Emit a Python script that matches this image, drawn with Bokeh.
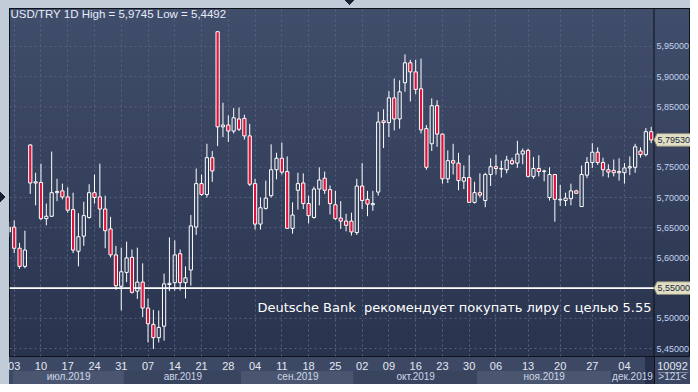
from bokeh.plotting import figure
from bokeh.models import (FixedTicker, LinearAxis, Label, Range1d, ColumnDataSource)
from bokeh.core.properties import value
from bokeh.embed import file_html
from bokeh.resources import INLINE

# ---------------- data ----------------
opens = [5.643, 5.651, 5.616, 5.586, 5.787, 5.724, 5.725, 5.665, 5.669, 5.708,
         5.711, 5.701, 5.680, 5.611, 5.636, 5.667, 5.708, 5.701, 5.681, 5.648,
         5.605, 5.553, 5.576, 5.601, 5.545, 5.560, 5.517, 5.490, 5.468, 5.487,
         5.556, 5.559, 5.607, 5.559, 5.580, 5.651, 5.723, 5.705, 5.766, 5.9745,
         5.817, 5.820, 5.810, 5.830, 5.831, 5.802, 5.723, 5.656, 5.682, 5.703,
         5.746, 5.765, 5.743, 5.649, 5.712, 5.724, 5.690, 5.667, 5.714, 5.732,
         5.713, 5.688, 5.666, 5.661, 5.661, 5.642, 5.719, 5.697, 5.688, 5.709,
         5.827, 5.824, 5.865, 5.830, 5.890, 5.923, 5.908, 5.880, 5.814, 5.789,
         5.852, 5.805, 5.731, 5.761, 5.757, 5.727, 5.733, 5.692, 5.708, 5.695,
         5.738, 5.751, 5.747, 5.746, 5.761, 5.757, 5.772, 5.778, 5.735, 5.748,
         5.743, 5.700, 5.738, 5.696, 5.695, 5.698, 5.711, 5.685, 5.737, 5.758,
         5.775, 5.758, 5.746, 5.745, 5.741, 5.741, 5.749, 5.750, 5.777, 5.771,
         5.809]
highs = [5.660, 5.662, 5.625, 5.645, 5.788, 5.741, 5.756, 5.690, 5.776, 5.731,
         5.723, 5.717, 5.708, 5.674, 5.693, 5.722, 5.738, 5.756, 5.703, 5.668,
         5.620, 5.617, 5.627, 5.614, 5.617, 5.591, 5.533, 5.514, 5.513, 5.574,
         5.634, 5.629, 5.614, 5.586, 5.671, 5.748, 5.738, 5.789, 5.777, 5.9745,
         5.857, 5.836, 5.848, 5.849, 5.837, 5.822, 5.731, 5.700, 5.728, 5.788,
         5.774, 5.791, 5.768, 5.692, 5.741, 5.740, 5.703, 5.718, 5.750, 5.743,
         5.720, 5.711, 5.694, 5.673, 5.675, 5.731, 5.757, 5.711, 5.711, 5.842,
         5.846, 5.876, 5.897, 5.894, 5.937, 5.928, 5.928, 5.930, 5.820, 5.864,
         5.861, 5.806, 5.778, 5.789, 5.774, 5.753, 5.770, 5.726, 5.740, 5.741,
         5.765, 5.771, 5.761, 5.769, 5.766, 5.794, 5.781, 5.781, 5.767, 5.770,
         5.746, 5.750, 5.739, 5.721, 5.708, 5.723, 5.713, 5.753, 5.767, 5.790,
         5.783, 5.766, 5.755, 5.763, 5.765, 5.757, 5.768, 5.789, 5.783, 5.815,
         5.817]
lows = [5.635, 5.608, 5.582, 5.583, 5.706, 5.687, 5.663, 5.654, 5.668, 5.694,
        5.697, 5.675, 5.608, 5.586, 5.620, 5.665, 5.690, 5.650, 5.616, 5.601,
        5.547, 5.513, 5.560, 5.541, 5.532, 5.502, 5.460, 5.4492, 5.460, 5.463,
        5.545, 5.546, 5.546, 5.533, 5.554, 5.638, 5.703, 5.700, 5.726, 5.785,
        5.800, 5.792, 5.806, 5.810, 5.796, 5.719, 5.647, 5.647, 5.680, 5.700,
        5.730, 5.738, 5.649, 5.640, 5.680, 5.681, 5.657, 5.665, 5.687, 5.706,
        5.672, 5.663, 5.648, 5.644, 5.637, 5.638, 5.681, 5.669, 5.678, 5.703,
        5.782, 5.800, 5.811, 5.814, 5.875, 5.859, 5.871, 5.806, 5.746, 5.777,
        5.784, 5.723, 5.724, 5.738, 5.712, 5.714, 5.691, 5.690, 5.700, 5.684,
        5.719, 5.738, 5.733, 5.740, 5.754, 5.749, 5.755, 5.733, 5.731, 5.735,
        5.727, 5.695, 5.660, 5.686, 5.686, 5.687, 5.706, 5.685, 5.732, 5.749,
        5.754, 5.735, 5.733, 5.735, 5.728, 5.723, 5.737, 5.741, 5.766, 5.768,
        5.790]
closes = [5.651, 5.616, 5.586, 5.613, 5.724, 5.726, 5.665, 5.669, 5.708, 5.710,
          5.701, 5.679, 5.613, 5.635, 5.670, 5.708, 5.700, 5.681, 5.645, 5.605,
          5.554, 5.577, 5.600, 5.543, 5.560, 5.517, 5.491, 5.468, 5.485, 5.557,
          5.558, 5.605, 5.559, 5.567, 5.653, 5.723, 5.705, 5.766, 5.744, 5.817,
          5.820, 5.810, 5.832, 5.813, 5.802, 5.722, 5.656, 5.683, 5.699, 5.746,
          5.765, 5.742, 5.649, 5.671, 5.723, 5.690, 5.670, 5.714, 5.729, 5.712,
          5.690, 5.665, 5.661, 5.654, 5.643, 5.719, 5.695, 5.689, 5.690, 5.825,
          5.824, 5.865, 5.830, 5.875, 5.923, 5.908, 5.879, 5.812, 5.750, 5.852,
          5.805, 5.731, 5.761, 5.757, 5.728, 5.733, 5.692, 5.708, 5.704, 5.738,
          5.751, 5.748, 5.748, 5.762, 5.756, 5.772, 5.777, 5.735, 5.748, 5.743,
          5.744, 5.738, 5.697, 5.697, 5.699, 5.711, 5.707, 5.738, 5.758, 5.775,
          5.758, 5.746, 5.742, 5.741, 5.743, 5.749, 5.751, 5.784, 5.771, 5.809,
          5.7953]
bar_no = list(range(1, len(opens) + 1))

day_tick_bars = [2, 7, 12, 17, 22, 27, 32, 37, 42, 47, 52, 57, 62, 67, 72, 77,
                 82, 87, 92, 98, 104, 110, 116]
day_tick_labels = ["03", "10", "17", "24", "31", "07", "14", "21", "28", "04",
                   "11", "18", "25", "02", "09", "16", "23", "30", "06", "13",
                   "20", "27", "04"]
month_names = ["июл.2019", "авг.2019", "сен.2019", "окт.2019", "ноя.2019", "дек.2019"]
month_first_bar = [1, 23, 45, 66, 89, 114]
month_last_bar = [22, 44, 65, 88, 113, 121]
price_ticks = [5.45, 5.50, 5.55, 5.60, 5.65, 5.70, 5.75, 5.80, 5.85, 5.90, 5.95]
last_price = 5.7953
target_level = 5.55
period_high = 5.9745
period_low = 5.4492
bars_shown = 121
counter_value = "10092"
note_text = "Deutsche Bank \u00a0рекомендует покупать лиру с целью 5.55"

# ---------------- geometry of the canvas ----------------
W, H = 690, 384
FL, FT, FB = 9, 8, 356          # frame left / top / bottom (px)
FR = W                          # frame extends under the price scale
X0, X1 = 1.122, 128.34          # bar-number range across the frame
Y0, Y1 = 5.4368, 6.0129
PLOT_END = 121.52               # bar-number where the price scale panel starts
SCALE_LABEL_X = 121.99
TAG_TIP, TAG_BASE, TAG_TEXT_X = 121.52, 122.08, 122.17
CORNER_X = 124.98


def px_x(n):
    return FL + (n - X0) / (X1 - X0) * (FR - FL)


# ---------------- derived ----------------
body_top = [max(o, c) for o, c in zip(opens, closes)]
body_bot = [min(o, c) for o, c in zip(opens, closes)]
up = [c >= o for o, c in zip(opens, closes)]


def pick(seq, flag):
    return [s for s, u in zip(seq, up) if u == flag]


src_up = ColumnDataSource(dict(x=pick(bar_no, True), top=pick(body_top, True),
                               bot=pick(body_bot, True)))
src_dn = ColumnDataSource(dict(x=pick(bar_no, False), top=pick(body_top, False),
                               bot=pick(body_bot, False)))
src_wick = ColumnDataSource(dict(x=bar_no, h=highs, l=lows, bt=body_top, bb=body_bot))

month_left = [max(f - 0.5, X0 + 0.7) for f in month_first_bar]
month_right = [l + 0.5 for l in month_last_bar]
month_center = [round((a + b) / 2, 2) for a, b in zip(month_left, month_right)]

# ---------------- CSS backdrop (panels, month bands, scroll markers) ----------------
layers = []
MARK = "#1b2130"


def rect(x0, y0, x1, y1, color):
    layers.append(f"linear-gradient({color}, {color}) {x0:.1f}px {y0:.1f}px / "
                  f"{x1 - x0:.1f}px {y1 - y0:.1f}px no-repeat")


def tri(x0, y0, w, h, direction, first_colored):
    a, b = (MARK, "transparent") if first_colored else ("transparent", MARK)
    layers.append(f"linear-gradient(to {direction}, {a} 50%, {b} 50%) "
                  f"{x0}px {y0}px / {w}px {h}px no-repeat")


# small window markers (left arrow, top arrow)
tri(0, 191, 6, 6, "top right", True)
tri(0, 197, 6, 6, "bottom right", True)
tri(345, 0, 5, 5, "top right", False)
tri(350, 0, 5, 5, "bottom right", True)

sep = px_x(PLOT_END)
rect(sep, FB, sep + 1, H, "#0e121a")
rect(sep + 4, FB + 16, W - 2, FB + 17, "#7a869f")
rect(sep + 1, FB, W, H, "#3a4662")
rect(sep - 9, FB + 1, sep, H, "#27304a")
for i, (a, b) in enumerate(zip(month_left, month_right)):
    rect(px_x(a), FB + 15, min(px_x(b), sep), H,
         "#4a5670" if i % 2 == 0 else "#39445f")
rect(FL, FB, W, H, "#3d4964")
layers.append(f"linear-gradient(180deg, #414e6b, #29334e) {FL}px {FT}px / "
              f"{W - FL}px {FB - FT}px no-repeat")
layers.append("#c2ccd8")
backdrop = ", ".join(layers)

# ---------------- figure ----------------
p = figure(width=W, height=H, output_backend="svg", toolbar_location=None,
           x_range=Range1d(X0, X1), y_range=Range1d(Y0, Y1),
           min_border_left=FL, min_border_right=0, min_border_top=FT,
           min_border_bottom=H - FB,
           styles={"background": backdrop})
p.background_fill_alpha = 0
p.border_fill_alpha = 0
p.outline_line_color = "#0e121a"
p.outline_line_width = 1
p.yaxis.visible = False
p.ygrid.visible = False

# vertical grid at the weekly ticks
p.xgrid.ticker = FixedTicker(ticks=day_tick_bars)
p.xgrid.grid_line_color = "#56637e"
p.xgrid.grid_line_dash = "2 3"

# horizontal grid (stops where the price scale begins)
p.segment(x0=[X0] * len(price_ticks), x1=[PLOT_END] * len(price_ticks),
          y0=price_ticks, y1=price_ticks, line_color="#56637e", line_dash="2 3",
          line_width=1)

# x axis: days (+ counter in the corner)
xa = p.xaxis[0]
xa.ticker = FixedTicker(ticks=day_tick_bars + [CORNER_X])
ov = {b: l for b, l in zip(day_tick_bars, day_tick_labels)}
ov[CORNER_X] = counter_value
xa.major_label_overrides = ov
xa.axis_line_color = None
xa.major_tick_line_color = None
xa.minor_tick_line_color = None
xa.major_tick_out = 0
xa.major_tick_in = 0
xa.major_label_standoff = 5
xa.major_label_text_font = "Liberation Sans"
xa.major_label_text_font_size = "11px"
xa.major_label_text_color = "#e2e8f3"

# second x axis: months (+ bar count in the corner)
ma = LinearAxis(ticker=FixedTicker(ticks=month_center + [CORNER_X]))
mov = {c: n for c, n in zip(month_center, month_names)}
mov[CORNER_X] = f">{bars_shown}<"
ma.major_label_overrides = mov
ma.axis_line_color = None
ma.major_tick_line_color = None
ma.minor_tick_line_color = None
ma.major_tick_out = 0
ma.major_tick_in = 0
ma.major_label_standoff = -2
ma.major_label_text_font = "Liberation Sans"
ma.major_label_text_font_size = "10px"
ma.major_label_text_color = "#cdd6e8"
p.add_layout(ma, "below")

# separator between plot and price scale
p.segment(x0=[PLOT_END], x1=[PLOT_END], y0=[Y0], y1=[Y1], line_color="#0e121a",
          line_width=1)

# price scale labels
p.text(x=[SCALE_LABEL_X] * len(price_ticks), y=price_ticks,
       text=[f"{t:.5f}".replace(".", ",") for t in price_ticks],
       text_font=value("Liberation Sans"), text_font_size="9px",
       text_color="#c3d3ee", text_align="left", text_baseline="middle")

# target line
p.segment(x0=[X0], x1=[PLOT_END], y0=[target_level], y1=[target_level],
          line_color="white", line_width=1.6)

# candles
p.segment(x0="x", y0="bt", x1="x", y1="h", source=src_wick, line_color="white", line_width=1)
p.segment(x0="x", y0="bb", x1="x", y1="l", source=src_wick, line_color="white", line_width=1)
p.vbar(x="x", top="top", bottom="bot", width=0.6, source=src_up,
       fill_alpha=0, line_color="white", line_width=1)
p.vbar(x="x", top="top", bottom="bot", width=0.6, source=src_dn,
       fill_color="#dc143c", line_color="white", line_width=1)

# price tags
tag_levels = [last_price, target_level]
hh = 0.0105
p.patches(xs=[[TAG_TIP, TAG_BASE, X1, X1, TAG_BASE] for _ in tag_levels],
          ys=[[v, v + hh, v + hh, v - hh, v - hh] for v in tag_levels],
          fill_color="#e2e0c4", line_color="#8c8c7c", line_width=1)
p.text(x=[TAG_TEXT_X] * len(tag_levels), y=tag_levels,
       text=[f"{v:.5f}".replace(".", ",") for v in tag_levels],
       text_font=value("Liberation Sans"), text_font_size="9px",
       text_color="#1c2640", text_align="left", text_baseline="middle")

# title text
title = ("USD/TRY 1D High = " + f"{period_high:.4f}".replace(".", ",") +
         " Low = " + f"{period_low:.4f}".replace(".", ","))
p.add_layout(Label(x=1.31, y=6.003, text=title, text_font="Liberation Sans",
                   text_font_size="11.5px", text_color="#e6ecf7",
                   text_baseline="middle", text_align="left"))

# note
p.add_layout(Label(x=121.05, y=5.5179, text=note_text, text_font="DejaVu Sans",
                   text_font_size="13px", text_color="white",
                   text_baseline="middle", text_align="right"))

open("out.html", "w").write(file_html(p, INLINE))
